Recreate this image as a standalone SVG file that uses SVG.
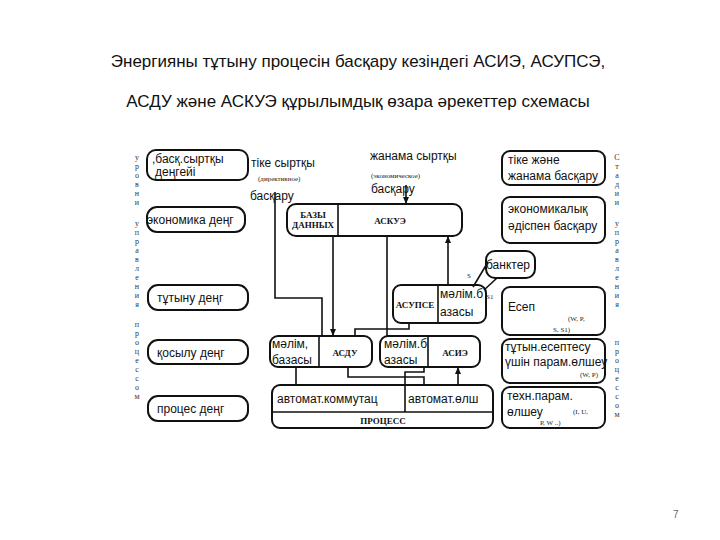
<svg xmlns="http://www.w3.org/2000/svg" width="720" height="540" viewBox="0 0 720 540">
<defs>
<marker id="ar" markerWidth="8" markerHeight="8" refX="7" refY="4" orient="auto" markerUnits="userSpaceOnUse"><path d="M0,1 L7,4 L0,7 z" fill="#111"/></marker>
<style>
.b{fill:#fff;stroke:#111;stroke-width:2}
.t{font-family:"Liberation Sans",Arial,sans-serif;font-size:12px;fill:#111}
.s{font-family:"Liberation Serif",serif;font-size:9px;font-weight:bold;fill:#111}
.x{font-family:"Liberation Serif",serif;font-size:7px;fill:#222}
.v{font-family:"Liberation Serif",serif;font-size:8px;fill:#333;text-anchor:middle}
.l{fill:none;stroke:#111;stroke-width:1.6}
</style>
</defs>
<rect width="720" height="540" fill="#fff"/>
<text x="358" y="67" text-anchor="middle" font-family="Liberation Sans,Arial,sans-serif" font-size="17" fill="#111">Энергияны тұтыну процесін басқару кезіндегі АСИЭ, АСУПСЭ,</text>
<text x="358" y="107" text-anchor="middle" font-family="Liberation Sans,Arial,sans-serif" font-size="17" fill="#111">АСДУ және АСКУЭ құрылымдық өзара әрекеттер схемасы</text>

<g id="leftlabels">
<text class="v" x="137" y="160">у</text><text class="v" x="137" y="169">р</text><text class="v" x="137" y="178">о</text><text class="v" x="137" y="187">в</text><text class="v" x="137" y="196">н</text><text class="v" x="137" y="205">и</text>
<text class="v" x="137" y="226">у</text><text class="v" x="137" y="235">п</text><text class="v" x="137" y="244">р</text><text class="v" x="137" y="253">а</text><text class="v" x="137" y="262">в</text><text class="v" x="137" y="271">л</text><text class="v" x="137" y="280">е</text><text class="v" x="137" y="289">н</text><text class="v" x="137" y="298">и</text><text class="v" x="137" y="307">я</text>
<text class="v" x="137" y="327">п</text><text class="v" x="137" y="336">р</text><text class="v" x="137" y="345">о</text><text class="v" x="137" y="354">ц</text><text class="v" x="137" y="363">е</text><text class="v" x="137" y="372">с</text><text class="v" x="137" y="381">с</text><text class="v" x="137" y="390">о</text><text class="v" x="137" y="399">м</text>
</g>
<g id="rightlabels">
<text class="v" x="617" y="160">С</text><text class="v" x="617" y="169">т</text><text class="v" x="617" y="178">а</text><text class="v" x="617" y="187">д</text><text class="v" x="617" y="196">и</text><text class="v" x="617" y="205">и</text>
<text class="v" x="617" y="226">у</text><text class="v" x="617" y="235">п</text><text class="v" x="617" y="244">р</text><text class="v" x="617" y="253">а</text><text class="v" x="617" y="262">в</text><text class="v" x="617" y="271">л</text><text class="v" x="617" y="280">е</text><text class="v" x="617" y="289">н</text><text class="v" x="617" y="298">и</text><text class="v" x="617" y="307">я</text>
<text class="v" x="617" y="345">п</text><text class="v" x="617" y="354">р</text><text class="v" x="617" y="363">о</text><text class="v" x="617" y="372">ц</text><text class="v" x="617" y="381">е</text><text class="v" x="617" y="390">с</text><text class="v" x="617" y="399">с</text><text class="v" x="617" y="408">о</text><text class="v" x="617" y="417">м</text>
</g>

<g id="lvl1"><rect class="b" x="147" y="150" width="101" height="30" rx="9"/><text class="t" x="152" y="163">,басқ.сыртқы</text><text class="t" x="155" y="176">деңгейі</text></g>
<g id="lvl2"><rect class="b" x="147" y="207" width="98" height="25" rx="10"/><text class="t" x="147" y="224">экономика деңг</text></g>
<g id="lvl3"><rect class="b" x="148" y="285" width="100" height="25" rx="10"/><text class="t" x="157" y="302">тұтыну деңг</text></g>
<g id="lvl4"><rect class="b" x="148" y="340" width="100" height="24" rx="10"/><text class="t" x="157" y="357">қосылу деңг</text></g>
<g id="lvl5"><rect class="b" x="148" y="396" width="100" height="25" rx="10"/><text class="t" x="157" y="413">процес деңг</text></g>

<g id="toptexts">
<text class="t" x="251" y="167">тіке сыртқы</text>
<text class="x" x="258" y="181">(директивное)</text>
<text class="t" x="250" y="200">басқару</text>
<text class="t" x="370" y="160">жанама сыртқы</text>
<text class="x" x="371" y="178">(экономическое)</text>
<text class="t" x="371" y="193">басқару</text>
</g>

<g id="askue"><rect class="b" x="287" y="204" width="175" height="32" rx="9"/><line class="l" x1="338" y1="204" x2="338" y2="236"/><text class="s" x="313" y="218" text-anchor="middle" font-size="7">БАЗЫ</text><text class="s" x="313" y="228" text-anchor="middle" font-size="7">ДАННЫХ</text><text class="s" x="390" y="224" text-anchor="middle">АСКУЭ</text></g>

<g id="r1"><rect class="b" x="502" y="151" width="103" height="34" rx="8"/><text class="t" x="508" y="164">тіке және</text><text class="t" x="508" y="180">жанама басқару</text></g>
<g id="r2"><rect class="b" x="502" y="197" width="103" height="46" rx="8"/><text class="t" x="508" y="213">экономикалық</text><text class="t" x="508" y="230">әдіспен басқару</text></g>
<g id="banks"><rect class="b" x="486" y="251" width="49" height="27" rx="9"/><text class="t" x="486" y="269">банктер</text></g>
<g id="r3"><rect class="b" x="502" y="287" width="103" height="48" rx="8"/><text class="t" x="508" y="311">Есеп</text><text class="x" x="568" y="321">(W,  P,</text><text class="x" x="553" y="332">S,  S1)</text></g>
<g id="r4"><rect class="b" x="502" y="339" width="103" height="44" rx="8"/><text class="t" x="505" y="351">тұтын.есептесу</text><text class="t" x="505" y="366">үшін парам.өлшеу</text><text class="x" x="580" y="377">(W,  P)</text></g>
<g id="r5"><rect class="b" x="502" y="387" width="103" height="41" rx="8"/><text class="t" x="507" y="400">техн.парам.</text><text class="t" x="507" y="416">өлшеу</text><text class="x" x="573" y="414">(I,  U,</text><text class="x" x="540" y="425">P,  W  ..)</text></g>

<g id="asupse"><rect class="b" x="393" y="285" width="93" height="38" rx="8"/><line class="l" x1="438" y1="285" x2="438" y2="323"/><text class="s" x="415" y="308" text-anchor="middle" font-size="8">АСУПСЕ</text><text class="t" x="440" y="298">мәлім.б</text><text class="t" x="440" y="316">азасы</text></g>
<g id="asdu"><rect class="b" x="270" y="336" width="102" height="31" rx="8"/><line class="l" x1="319" y1="336" x2="319" y2="367"/><text class="t" x="272" y="348">мәлім,</text><text class="t" x="272" y="364">базасы</text><text class="s" x="345" y="356" text-anchor="middle">АСДУ</text></g>
<g id="asie"><rect class="b" x="380" y="336" width="100" height="31" rx="8"/><line class="l" x1="428" y1="336" x2="428" y2="367"/><text class="t" x="384" y="348">мәлім.б</text><text class="t" x="384" y="364">азасы</text><text class="s" x="455" y="356" text-anchor="middle">АСИЭ</text></g>
<g id="process"><rect class="b" x="272" y="385" width="221" height="43" rx="8"/><line class="l" x1="272" y1="412" x2="493" y2="412"/><line class="l" x1="405" y1="385" x2="405" y2="412"/><text class="t" x="277" y="403">автомат.коммутац</text><text class="t" x="408" y="403">автомат.өлш</text><text class="s" x="383" y="424" text-anchor="middle" font-size="7" font-weight="normal">ПРОЦЕСС</text></g>

<g id="connectors">
<polyline class="l" points="275,192 275,298 322,298 322,336"/>
<line class="l" x1="333" y1="236" x2="333" y2="336" marker-end="url(#ar)"/>
<line class="l" x1="387" y1="236" x2="387" y2="336"/>
<line class="l" x1="448" y1="285" x2="448" y2="236" marker-end="url(#ar)"/>
<line class="l" x1="406" y1="185" x2="406" y2="204" marker-end="url(#ar)"/>
<polyline class="l" points="409,323 409,329 355,329 355,336"/>
<line class="l" x1="473" y1="287" x2="488" y2="262"/>
<line class="l" x1="484" y1="290" x2="497" y2="278"/>
<text class="x" x="467" y="278">S</text>
<text class="x" x="486" y="299">S1</text>
<line class="l" x1="296" y1="367" x2="296" y2="385"/>
<polyline class="l" points="348,367 348,377 424,377 424,385"/>
<polyline class="l" points="405,385 405,372 424,372 424,367"/>
<line class="l" x1="458" y1="385" x2="458" y2="367" marker-end="url(#ar)"/>
</g>
<text x="673" y="518" font-family="Liberation Sans,Arial,sans-serif" font-size="10" fill="#666">7</text>
</svg>
